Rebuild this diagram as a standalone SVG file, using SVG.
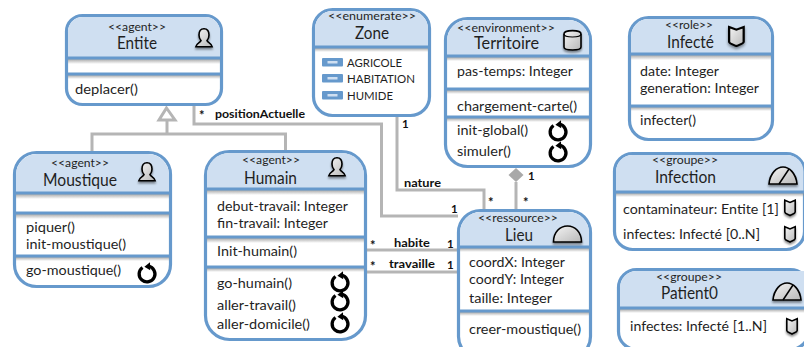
<svg xmlns="http://www.w3.org/2000/svg" width="804" height="347" viewBox="0 0 804 347">
<style>
text{font-family:Lato,"Liberation Sans",sans-serif;fill:#1f1f1f}
.st{font-size:11.500px}
.nm{font-size:16.500px}
.tx{font-size:14px}
.en{font-size:12px}
.lb{font-size:11.500px;font-weight:700;fill:#111}
.mk{font-size:13px;font-weight:700;fill:#111}
.box{fill:#fff;stroke:#6699cc;stroke-width:3.200}
.hd{fill:#cfdff1;stroke:none}
.sep{stroke:#6699cc;stroke-width:3.200;fill:none}
.sh{fill:url(#shade);stroke:none}
.conn{fill:none;stroke:#b5b5b5;stroke-width:3}
.ic{stroke:#000;stroke-width:1.600;fill:url(#metal);filter:url(#soft)}
.cy{fill:none;stroke:#000;stroke-width:3.300}
.cyh{fill:#000;stroke:none}
</style>
<defs>
<linearGradient id="shade" x1="0" y1="0" x2="0" y2="1"><stop offset="0" stop-color="#8a8a8a" stop-opacity=".75"/><stop offset="1" stop-color="#8a8a8a" stop-opacity="0"/></linearGradient>
<linearGradient id="metal" x1="0" y1="0" x2="1" y2="1"><stop offset="0" stop-color="#f5f5f5"/><stop offset="1" stop-color="#b8b8b8"/></linearGradient>
<filter id="soft" x="-30%" y="-30%" width="160%" height="170%"><feGaussianBlur in="SourceAlpha" stdDeviation="1.200"/><feOffset dy="1.500"/><feComponentTransfer><feFuncA type="linear" slope=".45"/></feComponentTransfer><feMerge><feMergeNode/><feMergeNode in="SourceGraphic"/></feMerge></filter>
<g id="person"><path class="ic" d="M9 .8C5.500 .8 4 3.500 4 7C4 9.500 5 11.500 6 12.500C5.500 14.500 1.500 15 .8 18.800H17.200C16.500 15 12.500 14.500 12 12.500C13 11.500 14 9.500 14 7C14 3.500 12.500 .8 9 .8Z"/></g>
<g id="cycle"><path class="cy" d="M-4.500-6.500A7.900 7.900 0 1 0 1.500-7.800"/><path class="cyh" d="M3-11.800L3.200-3.800L-2.600-7.200Z"/></g>
<g id="gauge"><path class="ic" d="M0 18C1 7 8 1 14 1C20 1 27 7 28 18Z"/><path d="M10 18L20 3" stroke="#000" stroke-width="1.500" fill="none"/></g>
<g id="shield"><path class="ic" d="M.8 .8L6 3L11.200 .8V12.500C11.200 14 9 14.500 6 16C3 14.500 .8 14 .8 12.500Z"/></g>
<g id="enum"><rect x="0" y="0" width="21" height="8.500" rx="1" fill="#6699cc"/><rect x="5.500" y="3" width="10" height="2.500" fill="#cfdff1"/></g>
</defs>

<g id="connectors">
<path class="conn" d="M167 121V134M92 151V134H285.500V151"/>
<path class="conn" d="M166.500 108L175 120H159Z" style="fill:#fff"/>
<path class="conn" d="M194 105V124H381.500V216H458"/>
<path class="conn" d="M397 117V190H484V209"/>
<path class="conn" d="M516 182V209"/>
<path d="M516 168L523.500 175L516 182L508.500 175Z" fill="#a9a9a9"/>
<path class="conn" d="M366 250H458M366 272H458"/>
</g>

<g id="Entite">
<rect class="box" x="66.500" y="15.500" width="155" height="89" rx="16"/>
<path class="hd" d="M68 58V31.500A14.500 14.500 0 0 1 82.500 17H205.500A14.500 14.500 0 0 1 220 31.500V58Z"/>
<rect class="sh" x="68" y="59" width="152" height="5"/><rect class="sh" x="68" y="75" width="152" height="4"/>
<path class="sep" d="M67 58H221M67 74H221"/>
<text class="st" x="108" y="31" textLength="58" lengthAdjust="spacingAndGlyphs">&lt;&lt;agent&gt;&gt;</text>
<text class="nm" x="117" y="49" textLength="40" lengthAdjust="spacingAndGlyphs">Entite</text>
<text class="tx" x="75" y="94" textLength="63" lengthAdjust="spacingAndGlyphs">deplacer()</text>
<use href="#person" x="195" y="28"/>
</g>

<g id="Moustique">
<rect class="box" x="14.500" y="152.500" width="156" height="134" rx="22"/>
<path class="hd" d="M16 193V174.500A21 21 0 0 1 37 154H148A21 21 0 0 1 169 174.500V193Z"/>
<rect class="sh" x="16" y="194" width="153" height="5"/><rect class="sh" x="16" y="214" width="153" height="5"/><rect class="sh" x="16" y="257" width="153" height="4"/>
<path class="sep" d="M15 193H170M15 213H170M15 256H170"/>
<text class="st" x="51" y="167" textLength="58" lengthAdjust="spacingAndGlyphs">&lt;&lt;agent&gt;&gt;</text>
<text class="nm" x="43" y="186" textLength="74" lengthAdjust="spacingAndGlyphs">Moustique</text>
<text class="tx" x="26" y="232" textLength="49" lengthAdjust="spacingAndGlyphs">piquer()</text>
<text class="tx" x="26" y="249" textLength="100" lengthAdjust="spacingAndGlyphs">init-moustique()</text>
<text class="tx" x="26" y="275" textLength="95" lengthAdjust="spacingAndGlyphs">go-moustique()</text>
<use href="#person" x="138" y="162"/>
<use href="#cycle" x="147" y="274"/>
</g>

<g id="Humain">
<rect class="box" x="205.500" y="151.500" width="160" height="188" rx="24"/>
<path class="hd" d="M207 189V175A22 22 0 0 1 229 153H342A22 22 0 0 1 364 175V189Z"/>
<rect class="sh" x="207" y="190" width="157" height="5"/><rect class="sh" x="207" y="238" width="157" height="5"/><rect class="sh" x="207" y="268" width="157" height="4"/>
<path class="sep" d="M206 189H365M206 237H365M206 267H365"/>
<text class="st" x="242" y="164" textLength="58" lengthAdjust="spacingAndGlyphs">&lt;&lt;agent&gt;&gt;</text>
<text class="nm" x="244" y="184" textLength="53" lengthAdjust="spacingAndGlyphs">Humain</text>
<text class="tx" x="217" y="211" textLength="131" lengthAdjust="spacingAndGlyphs">debut-travail: Integer</text>
<text class="tx" x="217" y="228" textLength="111" lengthAdjust="spacingAndGlyphs">fin-travail: Integer</text>
<text class="tx" x="217" y="256" textLength="80" lengthAdjust="spacingAndGlyphs">Init-humain()</text>
<text class="tx" x="217" y="288" textLength="75" lengthAdjust="spacingAndGlyphs">go-humain()</text>
<text class="tx" x="217" y="310" textLength="79" lengthAdjust="spacingAndGlyphs">aller-travail()</text>
<text class="tx" x="217" y="329" textLength="93" lengthAdjust="spacingAndGlyphs">aller-domicile()</text>
<use href="#person" x="328" y="157"/>
<use href="#cycle" x="340" y="283"/>
<use href="#cycle" x="340" y="302"/>
<use href="#cycle" x="340" y="324"/>
</g>

<g id="Zone">
<rect class="box" x="313.500" y="9.500" width="116" height="106" rx="19"/>
<path class="hd" d="M315 47V28.500A17.500 17.500 0 0 1 332.500 11H410.500A17.500 17.500 0 0 1 428 28.500V47Z"/>
<rect class="sh" x="315" y="48" width="113" height="4"/>
<path class="sep" d="M314 47H429"/>
<text class="st" x="328" y="20" textLength="88" lengthAdjust="spacingAndGlyphs">&lt;&lt;enumerate&gt;&gt;</text>
<text class="nm" x="355" y="39" textLength="34" lengthAdjust="spacingAndGlyphs">Zone</text>
<use href="#enum" x="322" y="58"/><use href="#enum" x="322" y="74"/><use href="#enum" x="322" y="91"/>
<text class="en" x="347" y="67" textLength="55" lengthAdjust="spacingAndGlyphs">AGRICOLE</text>
<text class="en" x="347" y="83" textLength="68" lengthAdjust="spacingAndGlyphs">HABITATION</text>
<text class="en" x="347" y="100" textLength="46" lengthAdjust="spacingAndGlyphs">HUMIDE</text>
</g>

<g id="Territoire">
<rect class="box" x="445.500" y="18.500" width="145" height="148" rx="22"/>
<path class="hd" d="M447 56V40.500A20.500 20.500 0 0 1 467.500 20H568.500A20.500 20.500 0 0 1 589 40.500V56Z"/>
<rect class="sh" x="447" y="57" width="142" height="4"/><rect class="sh" x="447" y="90" width="142" height="4"/><rect class="sh" x="447" y="118" width="142" height="4"/>
<path class="sep" d="M446 56H590M446 89H590M446 117H590"/>
<text class="st" x="457" y="32" textLength="98" lengthAdjust="spacingAndGlyphs">&lt;&lt;environment&gt;&gt;</text>
<text class="nm" x="474" y="49" textLength="65" lengthAdjust="spacingAndGlyphs">Territoire</text>
<text class="tx" x="457" y="76" textLength="116" lengthAdjust="spacingAndGlyphs">pas-temps: Integer</text>
<text class="tx" x="457" y="111" textLength="120" lengthAdjust="spacingAndGlyphs">chargement-carte()</text>
<text class="tx" x="457" y="135" textLength="71" lengthAdjust="spacingAndGlyphs">init-global()</text>
<text class="tx" x="457" y="156" textLength="54" lengthAdjust="spacingAndGlyphs">simuler()</text>
<path class="ic" d="M564 34C564 29.500 581 29.500 581 34V47C581 51 564 51 564 47Z"/>
<path d="M564 34C564 38 581 38 581 34" fill="none" stroke="#000" stroke-width="1.200"/>
<use href="#cycle" x="558" y="132"/>
<use href="#cycle" x="558" y="153"/>
</g>

<g id="Infecte">
<rect class="box" x="629.500" y="17.500" width="143" height="122" rx="19"/>
<path class="hd" d="M631 54V36.500A17.500 17.500 0 0 1 648.500 19H753.500A17.500 17.500 0 0 1 771 36.500V54Z"/>
<rect class="sh" x="631" y="55" width="140" height="5"/><rect class="sh" x="631" y="107" width="140" height="4"/>
<path class="sep" d="M630 54H772M630 106H772"/>
<text class="st" x="665" y="29" textLength="48" lengthAdjust="spacingAndGlyphs">&lt;&lt;role&gt;&gt;</text>
<text class="nm" x="667" y="48" textLength="47" lengthAdjust="spacingAndGlyphs">Infecté</text>
<text class="tx" x="640" y="76" textLength="79" lengthAdjust="spacingAndGlyphs">date: Integer</text>
<text class="tx" x="640" y="93" textLength="119" lengthAdjust="spacingAndGlyphs">generation: Integer</text>
<text class="tx" x="640" y="125" textLength="56" lengthAdjust="spacingAndGlyphs">infecter()</text>
<use href="#shield" transform="translate(728 26) scale(1.400 1.250)"/>
</g>

<g id="Infection">
<rect class="box" x="614.500" y="153.500" width="190" height="96" rx="18"/>
<path class="hd" d="M616 192V171.500A16.500 16.500 0 0 1 632.500 155H787A16.500 16.500 0 0 1 803.500 171.500V192Z"/>
<rect class="sh" x="616" y="193" width="188" height="4"/>
<path class="sep" d="M615 192H804"/>
<text class="st" x="652" y="164" textLength="66" lengthAdjust="spacingAndGlyphs">&lt;&lt;groupe&gt;&gt;</text>
<text class="nm" x="655" y="183" textLength="61" lengthAdjust="spacingAndGlyphs">Infection</text>
<text class="tx" x="623" y="214" textLength="156" lengthAdjust="spacingAndGlyphs">contaminateur: Entite [1]</text>
<text class="tx" x="623" y="239" textLength="137" lengthAdjust="spacingAndGlyphs">infectes: Infecté [0..N]</text>
<use href="#gauge" x="769" y="166"/>
<use href="#shield" x="784" y="199.500"/>
<use href="#shield" x="784" y="226"/>
</g>

<g id="Patient0">
<rect class="box" x="618.500" y="269.500" width="190" height="80" rx="18"/>
<path class="hd" d="M620 308V287.500A16.500 16.500 0 0 1 636.500 271H804V308Z"/>
<rect class="sh" x="620" y="309" width="184" height="4"/>
<path class="sep" d="M619 308H804"/>
<text class="st" x="656" y="281" textLength="66" lengthAdjust="spacingAndGlyphs">&lt;&lt;groupe&gt;&gt;</text>
<text class="nm" x="661" y="299" textLength="57" lengthAdjust="spacingAndGlyphs">Patient0</text>
<text class="tx" x="630" y="331" textLength="137" lengthAdjust="spacingAndGlyphs">infectes: Infecté [1..N]</text>
<use href="#gauge" x="773" y="282"/>
<use href="#shield" x="786" y="318"/>
</g>

<g id="Lieu">
<rect class="box" x="458.500" y="210.500" width="132" height="148" rx="22"/>
<path class="hd" d="M460 247V232.500A20.500 20.500 0 0 1 480.500 212H568.500A20.500 20.500 0 0 1 589 232.500V247Z"/>
<rect class="sh" x="460" y="248" width="129" height="4"/><rect class="sh" x="460" y="312" width="129" height="4"/>
<path class="sep" d="M459 247H590M459 311H590"/>
<text class="st" x="478" y="222" textLength="80" lengthAdjust="spacingAndGlyphs">&lt;&lt;ressource&gt;&gt;</text>
<text class="nm" x="505" y="241" textLength="28" lengthAdjust="spacingAndGlyphs">Lieu</text>
<text class="tx" x="469" y="267" textLength="96" lengthAdjust="spacingAndGlyphs">coordX: Integer</text>
<text class="tx" x="469" y="284" textLength="95" lengthAdjust="spacingAndGlyphs">coordY: Integer</text>
<text class="tx" x="469" y="303" textLength="83" lengthAdjust="spacingAndGlyphs">taille: Integer</text>
<text class="tx" x="469" y="334" textLength="112" lengthAdjust="spacingAndGlyphs">creer-moustique()</text>
<path class="ic" d="M553.500 242C553.500 232 560 226 567.500 226C575 226 581.500 232 581.500 242Z"/>
</g>

<g id="labels">
<text class="mk" x="199" y="120">*</text>
<text class="lb" x="215" y="118" textLength="90" lengthAdjust="spacingAndGlyphs">positionActuelle</text>
<text class="lb" x="402" y="128">1</text>
<text class="lb" x="404" y="187" textLength="37" lengthAdjust="spacingAndGlyphs">nature</text>
<text class="mk" x="488" y="207">*</text>
<text class="mk" x="523" y="207">*</text>
<text class="lb" x="528" y="180">1</text>
<text class="lb" x="451" y="213">1</text>
<text class="mk" x="370" y="250">*</text>
<text class="lb" x="394" y="247" textLength="36" lengthAdjust="spacingAndGlyphs">habite</text>
<text class="lb" x="447" y="248">1</text>
<text class="mk" x="370" y="271">*</text>
<text class="lb" x="389" y="268" textLength="46" lengthAdjust="spacingAndGlyphs">travaille</text>
<text class="lb" x="447" y="269">1</text>
</g>
</svg>
